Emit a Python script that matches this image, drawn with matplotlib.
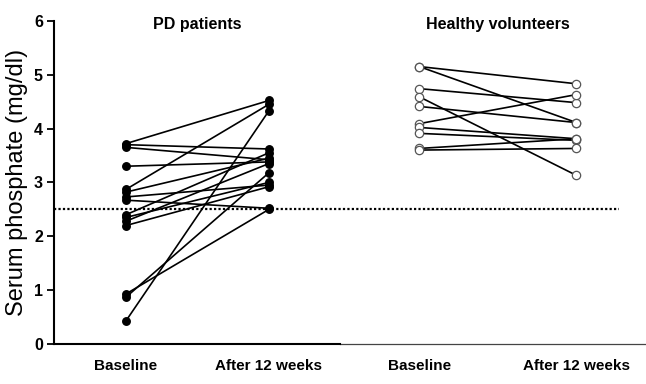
import matplotlib
matplotlib.use("Agg")
import matplotlib.pyplot as plt

plt.rcParams['font.family'] = ['Liberation Sans', 'DejaVu Sans']

# --- data ---
group_titles = ["PD patients", "Healthy volunteers"]
tick_labels = ["Baseline", "After 12 weeks", "Baseline", "After 12 weeks"]
positions = [1.0, 2.0, 3.05, 4.15]

pd_baseline = [3.72, 3.70, 3.65, 3.30, 2.87, 2.82, 2.73, 2.67, 2.40, 2.35, 2.28, 2.20, 0.93, 0.87, 0.43]
pd_after    = [4.52, 3.62, 3.42, 3.38, 4.45, 3.45, 2.95, 2.52, 3.55, 3.00, 3.35, 2.92, 2.50, 3.18, 4.33]

hv_baseline = [5.15, 5.15, 4.74, 4.59, 4.41, 4.09, 4.02, 3.91, 3.63, 3.60]
hv_after    = [4.83, 4.11, 4.48, 3.13, 4.11, 4.63, 3.81, 3.78, 3.81, 3.63]

threshold = 2.5

fig = plt.figure(figsize=(6.46, 3.84), dpi=100)
ax = fig.add_axes([0.0836, 0.104, 0.9164, 0.842])

# PD patients: filled dots joined per patient
for b, a in zip(pd_baseline, pd_after):
    ax.plot([positions[0], positions[1]], [b, a], color='black', lw=1.2,
            marker='o', ms=5.4, mfc='black', mec='black', zorder=3)

# healthy volunteers: open circles
for b, a in zip(hv_baseline, hv_after):
    ax.plot([positions[2], positions[3]], [b, a], color='black', lw=1.2, zorder=2)
    ax.plot([positions[2], positions[3]], [b, a], ls='none', marker='o', ms=6,
            mfc='white', mec='#555555', mew=0.9, zorder=3)

ax.plot([0.497, 4.45], [threshold, threshold], color='black', lw=1.6,
        ls=(0, (1.0, 1.0)), zorder=1)

ax.set_xlim(0.497, 4.636)
ax.set_ylim(0, 6)

ax.text((positions[0] + positions[1]) / 2, 5.93, group_titles[0], ha='center', va='center',
        fontsize=11.5, fontweight='bold')
ax.text((positions[2] + positions[3]) / 2, 5.93, group_titles[1], ha='center', va='center',
        fontsize=11.5, fontweight='bold')

ax.set_xticks(positions)
ax.set_xticklabels(tick_labels, fontsize=11, fontweight='bold')
ax.tick_params(axis='x', length=0, pad=11)
ax.set_yticks(range(7))
ax.set_yticklabels([str(i) for i in range(7)], fontsize=11.5, fontweight='bold')
ax.tick_params(axis='y', length=5, width=1.3, pad=3)
ax.set_ylabel("Serum phosphate (mg/dl)", fontsize=17, labelpad=4)

ax.spines['top'].set_visible(False)
ax.spines['right'].set_visible(False)
ax.spines['left'].set_linewidth(1.5)
ax.spines['bottom'].set_linewidth(1.5)
ax.spines['bottom'].set_bounds(0.497, 2.5)
ax.plot([2.5, 4.636], [0, 0], color='#444444', lw=0.9, clip_on=False)

fig.savefig("out.png", dpi=100)
